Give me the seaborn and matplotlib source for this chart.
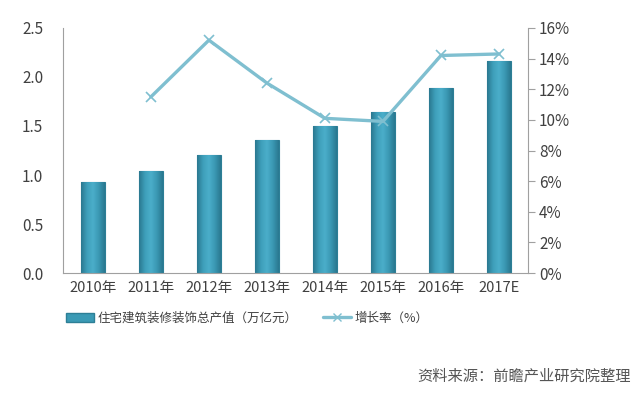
import numpy as np
import pandas as pd
import seaborn as sns
import matplotlib.pyplot as plt
from matplotlib.patches import Patch
from matplotlib.lines import Line2D
from matplotlib.colors import LinearSegmentedColormap

# chart data
years = ['2010年', '2011年', '2012年', '2013年', '2014年', '2015年', '2016年', '2017E']
output_value = [0.93, 1.04, 1.20, 1.36, 1.50, 1.64, 1.89, 2.16]   # 万亿元
growth_years = years[1:]
growth_rate = [11.5, 15.2, 12.4, 10.1, 9.9, 14.2, 14.3]          # %

bar_label = '住宅建筑装修装饰总产值（万亿元）'
line_label = '增长率（%）'
source_text = '资料来源：前瞻产业研究院整理'

sns.set_style('white')
plt.rcParams['font.family'] = ['Noto Sans CJK SC', 'DejaVu Sans']

bar_color = '#3A9AB5'
line_color = '#7FBFD0'
text_color = '#404040'
axis_color = '#A0A0A0'

df_bar = pd.DataFrame({'year': years, 'value': output_value})
df_line = pd.DataFrame({'pos': [years.index(y) for y in growth_years], 'rate': growth_rate})

fig = plt.figure(figsize=(6.4, 3.93), dpi=100)
ax = fig.add_axes([0.098, 0.305, 0.727, 0.624])

sns.barplot(data=df_bar, x='year', y='value', ax=ax, color=bar_color,
            width=0.41, edgecolor='#2D7F96', linewidth=0.8, saturation=1)
ax.set_xlim(-0.52, 7.5)
ax.set_ylim(0, 2.5)

# cylinder-like shading: dark edges, lighter middle
shade = LinearSegmentedColormap.from_list(
    'shade', ['#2A7890', '#3E9FBA', '#4BAECA', '#3A98B3', '#2A7890'])
grad = np.linspace(0, 1, 64).reshape(1, -1)
for bar in ax.patches:
    x0, y0 = bar.get_x(), bar.get_y()
    w, h = bar.get_width(), bar.get_height()
    im = ax.imshow(grad, cmap=shade, aspect='auto',
                   extent=(x0, x0 + w, y0, y0 + h), zorder=bar.get_zorder() + 0.1)
    im.set_clip_path(bar)
ax.set_xlim(-0.52, 7.5)
ax.set_ylim(0, 2.5)

ax.set_yticks(np.arange(0, 2.51, 0.5))
ax.set_yticklabels([f'{v:.1f}' for v in np.arange(0, 2.51, 0.5)])
ax.set_xlabel('')
ax.set_ylabel('')

ax2 = ax.twinx()
sns.lineplot(data=df_line, x='pos', y='rate', ax=ax2, color=line_color,
             linewidth=2.4, marker='x', markersize=7, markeredgewidth=1.2,
             markeredgecolor=line_color)
ax2.set_ylim(0, 16)
ax2.set_yticks(np.arange(0, 17, 2))
ax2.set_yticklabels([f'{v}%' for v in range(0, 17, 2)])
ax2.set_ylabel('')
ax2.set_xlim(-0.52, 7.5)

for a in (ax, ax2):
    for s in a.spines.values():
        s.set_visible(False)
ax.spines['left'].set_visible(True)
ax.spines['left'].set_color(axis_color)
ax.spines['bottom'].set_visible(True)
ax.spines['bottom'].set_color(axis_color)
ax2.spines['right'].set_visible(True)
ax2.spines['right'].set_color(axis_color)

ax.tick_params(axis='y', length=0, labelsize=11, labelcolor=text_color, pad=14)
ax.tick_params(axis='x', length=0, labelsize=10.5, labelcolor=text_color, pad=6)
ax2.tick_params(axis='y', length=5, color=axis_color, labelsize=11,
                labelcolor=text_color, pad=3, direction='out')

handles = [Patch(facecolor=bar_color, edgecolor='#2D7F96', label=bar_label),
           Line2D([0], [0], color=line_color, lw=2.4, marker='x', markersize=6,
                  label=line_label)]
fig.legend(handles=handles, loc='center left', bbox_to_anchor=(0.085, 0.19),
           ncol=2, frameon=False, fontsize=9, handlelength=2.3,
           handletextpad=0.25, columnspacing=2.0, labelcolor=text_color)

fig.text(0.985, 0.043, source_text, ha='right', va='center', fontsize=11,
         style='italic', color='#555555')

fig.savefig('out.png', dpi=100)
